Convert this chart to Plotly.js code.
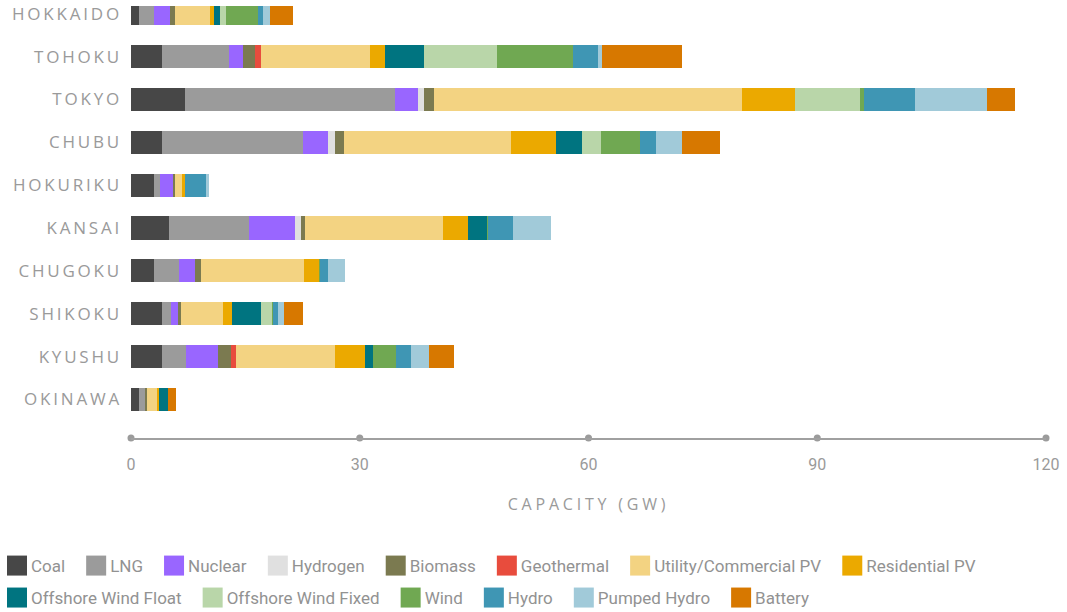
<!DOCTYPE html>
<html>
<head>
<meta charset="utf-8">
<script src="https://cdn.plot.ly/plotly-3.0.1.min.js"></script>
<style>
  html, body { margin: 0; padding: 0; background: #fff; }
  #chart { width: 1067px; height: 612px; }
  .yaxislayer-above .ytick text { letter-spacing: 2.8px; }
  .g-xtitle text { letter-spacing: 3.8px; }
  .legendpoints path { d: path("M16,10H-4V-10H16Z"); }
</style>
</head>
<body>
<div id="chart"></div>
<script>
// Regions (top to bottom)
const regions = ["HOKKAIDO", "TOHOKU", "TOKYO", "CHUBU", "HOKURIKU", "KANSAI", "CHUGOKU", "SHIKOKU", "KYUSHU", "OKINAWA"];

// Capacity (GW) per technology, in region order
const coal          = [1.0, 4.1, 7.1, 4.1, 3.0, 5.0, 3.0, 4.1, 4.1, 1.0];
const lng           = [2.0, 8.8, 27.5, 18.4, 0.8, 10.5, 3.3, 1.2, 3.1, 0.8];
const nuclear       = [2.1, 1.8, 3.0, 3.4, 1.7, 6.0, 2.1, 0.9, 4.2, 0];
const hydrogen      = [0, 0, 0.8, 0.8, 0, 0.8, 0, 0, 0, 0];
const biomass       = [0.7, 1.6, 1.3, 1.2, 0.3, 0.5, 0.8, 0.4, 1.7, 0.3];
const geothermal    = [0, 0.8, 0, 0, 0, 0, 0, 0, 0.7, 0];
const utilityPV     = [4.6, 14.2, 40.4, 21.9, 0.9, 18.1, 13.5, 5.4, 13.0, 1.3];
const residentialPV = [0.5, 2.0, 7.0, 5.9, 0.4, 3.3, 2.0, 1.2, 3.9, 0.3];
const offshoreFloat = [0.8, 5.1, 0, 3.4, 0, 2.5, 0, 3.9, 1.0, 1.2];
const offshoreFixed = [0.8, 9.6, 8.5, 2.6, 0, 0, 0, 1.4, 0, 0];
const wind          = [4.1, 10.0, 0.5, 5.0, 0, 0.1, 0.1, 0.1, 3.0, 0];
const hydro         = [0.7, 3.3, 6.7, 2.1, 2.8, 3.3, 1.0, 0.7, 2.0, 0];
const pumpedHydro   = [0.9, 0.5, 9.4, 3.4, 0.3, 5.0, 2.2, 0.8, 2.4, 0];
const battery       = [3.0, 10.4, 3.7, 5.1, 0, 0, 0, 2.5, 3.3, 1.0];

const seriesNames = ["Coal", "LNG", "Nuclear", "Hydrogen", "Biomass", "Geothermal",
  "Utility/Commercial PV", "Residential PV", "Offshore Wind Float", "Offshore Wind Fixed",
  "Wind", "Hydro", "Pumped Hydro", "Battery"];
const seriesValues = [coal, lng, nuclear, hydrogen, biomass, geothermal, utilityPV,
  residentialPV, offshoreFloat, offshoreFixed, wind, hydro, pumpedHydro, battery];
const seriesColors = ["#474747", "#9b9b9b", "#9966ff", "#e0e0e0", "#7b7a50", "#e84c3d",
  "#f3d382", "#eba900", "#007480", "#b9d6a9", "#70a852", "#3f96b4", "#a1cad9", "#d77800"];

// X-axis ticks
const xTickVals = [0, 30, 60, 90, 120];
const xTickText = ["0", "30", "60", "90", "120"];

const traces = seriesNames.map((name, i) => ({
  type: "bar",
  orientation: "h",
  name: name,
  y: regions,
  x: seriesValues[i],
  marker: { color: seriesColors[i], line: { width: 0 } },
  legend: i < 8 ? "legend" : "legend2",
  hoverinfo: "x+name"
}));

// dots on the axis line at each tick
traces.push({
  type: "scatter",
  mode: "markers",
  x: xTickVals,
  y: xTickVals.map(() => 0),
  yaxis: "y2",
  marker: { color: "#9b9b9b", size: 7 },
  cliponaxis: false,
  showlegend: false,
  hoverinfo: "skip"
});

const gray = "#9a9a9a";

const legendFont = { family: "Roboto", size: 17, color: "#929292" };

const layout = {
  width: 1067,
  height: 612,
  barmode: "stack",
  bargap: 0.463,
  paper_bgcolor: "#ffffff",
  plot_bgcolor: "#ffffff",
  margin: { l: 131, r: 21, t: 6, b: 174, autoexpand: false },
  showlegend: true,
  xaxis: {
    automargin: false,
    range: [0, 120],
    tickvals: xTickVals,
    ticktext: xTickText,
    showgrid: false,
    zeroline: false,
    showline: true,
    linecolor: "#a0a0a0",
    linewidth: 2,
    ticks: "",
    ticklabelstandoff: 11,
    tickfont: { family: "Roboto", size: 16, color: gray },
    title: { text: "CAPACITY (GW)", font: { family: "Open Sans", size: 16, color: gray }, standoff: 26 },
    fixedrange: true
  },
  yaxis: {
    automargin: false,
    type: "category",
    categoryorder: "array",
    categoryarray: regions,
    range: [9.9, -0.18],
    showgrid: false,
    zeroline: false,
    showline: false,
    ticks: "",
    ticklabelstandoff: 8,
    tickfont: { family: "Open Sans", size: 17, color: gray },
    fixedrange: true
  },
  yaxis2: {
    overlaying: "y",
    range: [0, 1],
    visible: false,
    fixedrange: true
  },
  legend: {
    orientation: "h",
    x: -0.153, xanchor: "left",
    y: -0.2547, yanchor: "top",
    font: legendFont,
    bgcolor: "rgba(0,0,0,0)",
    traceorder: "normal"
  },
  legend2: {
    orientation: "h",
    x: -0.153, xanchor: "left",
    y: -0.3287, yanchor: "top",
    font: legendFont,
    bgcolor: "rgba(0,0,0,0)",
    traceorder: "normal"
  }
};

Plotly.newPlot("chart", traces, layout, { displayModeBar: false });
</script>
</body>
</html>
